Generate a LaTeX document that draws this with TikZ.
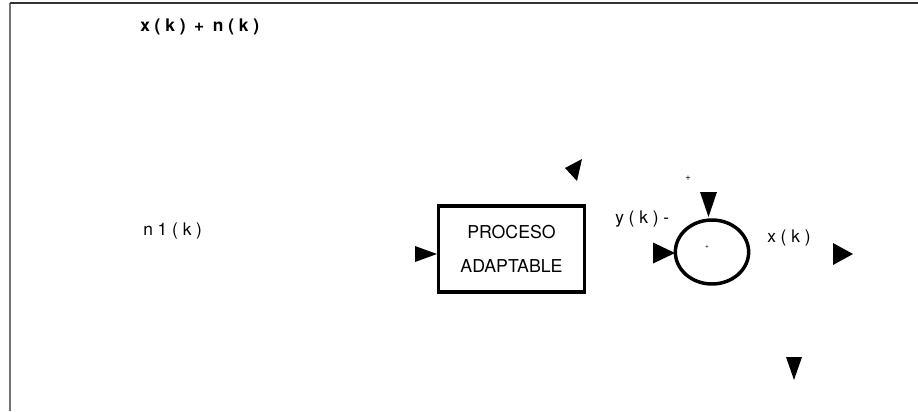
\documentclass[tikz,border=0pt]{standalone}
\usepackage{fontspec}
\setmainfont{TeX Gyre Heros}
\usetikzlibrary{positioning,shapes.geometric}

\tikzset{
  lbl/.style={anchor=west, inner sep=0.75pt, font=\fontsize{13}{15}\selectfont},
  tipfill/.style={fill=black, draw=none},
}

\begin{document}
\begin{tikzpicture}[x=0.75pt,y=0.75pt,yscale=-1,xscale=1]
        \useasboundingbox (0,0) rectangle (918,411);
        % frame
        \draw [line width=1.1pt, color=black!55] (10,411) -- (10,3) ;
        \draw [line width=1.5pt, color=black!80] (10,3) -- (918,3) ;

        % blocks
        \node [draw, line width=2.3pt, minimum width=109.5pt, minimum height=64.5pt, align=center, font=\fontsize{13.3}{25}\selectfont, inner sep=0pt] (proc) at (511.5,249) {PROCESO\\ADAPTABLE};
        \node [draw, ellipse, line width=2.6pt, minimum width=55pt, minimum height=48pt, inner sep=0pt] (sum) at (712,252) {};
        \node [inner sep=0pt, font=\tiny] (sumc) at (707,247) {+};

        % arrow tips
        \fill [tipfill, shift={(437,254)}, rotate=0]   (0,0) -- (-22,-8) -- (-22,8) -- cycle ;
        \fill [tipfill] (565,168) -- (582,159) -- (577,181) -- cycle ;
        \fill [tipfill, shift={(708.5,217)}, rotate=90] (0,0) -- (-25,-8.5) -- (-25,8.5) -- cycle ;
        \fill [tipfill, shift={(675,253)}, rotate=0]   (0,0) -- (-22,-10.5) -- (-22,10.5) -- cycle ;
        \fill [tipfill, shift={(853,254)}, rotate=0]   (0,0) -- (-20,-11) -- (-20,11) -- cycle ;
        \fill [tipfill, shift={(794,380)}, rotate=90]  (0,0) -- (-23,-8) -- (-23,8) -- cycle ;

        % labels
        \node [lbl, font=\fontsize{13}{15}\selectfont\bfseries] (xn) at (139,27) {x ( k )\enspace+\enspace n ( k )};
        \node [lbl] (n1) at (142,231) {n 1 ( k )};
        \node [lbl] (yk) at (614,219) {y ( k ) -};
        \node [lbl] (xk) at (766,238) {x ( k )};
        \node [inner sep=0pt, font=\scriptsize] (plus) at (688,178) {+};
\end{tikzpicture}
\end{document}
